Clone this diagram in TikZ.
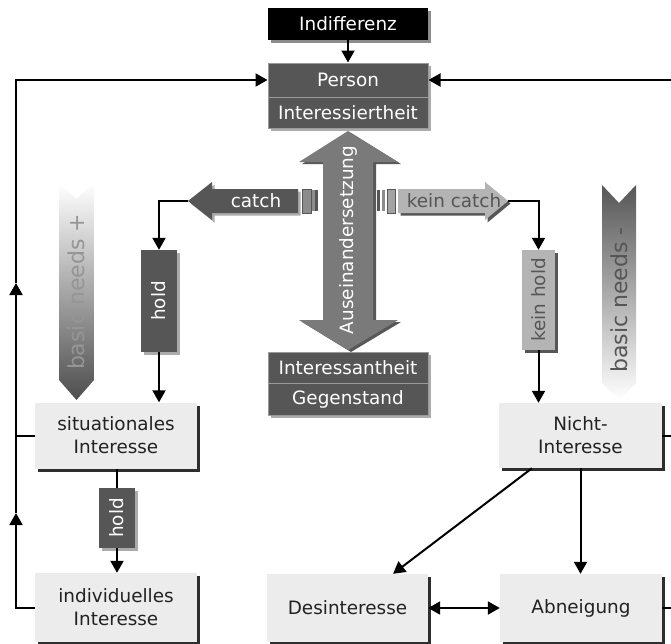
\documentclass[tikz,border=0pt]{standalone}
\usepackage{fontspec}
\usepackage{graphicx}
\setmainfont{DejaVu Sans}
\usetikzlibrary{arrows.meta,shadows,calc}
\definecolor{cDark}{HTML}{565656}
\definecolor{cMid}{HTML}{7A7A7A}
\definecolor{cLight}{HTML}{B4B4B4}
\definecolor{cTail}{HTML}{8C8C8C}
\definecolor{cBox}{HTML}{ECECEC}
\definecolor{cText}{HTML}{222222}
\definecolor{cShadowD}{HTML}{2E2E2E}
\definecolor{cShadowL}{HTML}{ABABAB}
\definecolor{cBorder}{HTML}{9A9A9A}
\definecolor{cNeedP}{HTML}{959595}
\definecolor{cNeedM}{HTML}{555555}
\begin{document}
\begin{tikzpicture}[x=1pt,y=-1pt,
  every node/.style={font=\fontsize{18.4}{23}\selectfont, inner sep=0pt},
  arr/.style={line width=2pt, -{Triangle[length=12pt,width=13pt]}},
  darr/.style={line width=2pt, {Triangle[length=12pt,width=13pt]}-{Triangle[length=12pt,width=13pt]}},
  ln/.style={line width=2pt},
  lshadow/.style={drop shadow={shadow xshift=3pt, shadow yshift=-3pt, fill=cShadowD, opacity=1}},
  gshadow/.style={drop shadow={shadow xshift=2.5pt, shadow yshift=-2.5pt, fill=cShadowL, opacity=1}},
  lightbox/.style={fill=cBox, text=cText, align=center, lshadow},
  darkbox/.style={fill=cDark, draw=cBorder, line width=1pt, text=white, minimum width=160pt, gshadow},
  holdbox/.style={fill=cDark, text=white, minimum width=36pt, gshadow},
  keinholdbox/.style={fill=cLight, text=cDark, minimum width=33pt, drop shadow={shadow xshift=2.5pt, shadow yshift=-2.5pt, fill=cDark, opacity=1}},
]
\useasboundingbox (0,0) rectangle (671,643);

% top boxes
\node[fill=black, text=white, minimum width=160pt, minimum height=32pt,
  drop shadow={shadow xshift=2.5pt, shadow yshift=-2.5pt, fill=cTail, opacity=1}] (indiff) at (348,24) {Indifferenz};
\node[darkbox, minimum height=34pt] (person) at (348,80) {Person};
\node[darkbox, minimum height=31pt] (interest) at (348,112.5) {Interessiertheit};

\node[darkbox, minimum height=31pt] (interessant) at (348,367.5) {Interessantheit};
\node[darkbox, minimum height=32pt] (gegenstand) at (348,399) {Gegenstand};

% Auseinandersetzung double arrow
\fill[cMid, drop shadow={shadow xshift=3pt, shadow yshift=-2pt, fill=cShadowD!80, opacity=1}]
  (348,131) -- (398,162) -- (373,162) -- (373,320) -- (398,320) -- (348,350)
  -- (299,320) -- (323,320) -- (323,162) -- (299,162) -- cycle;
\node[text=white] (ause) at (348,240) {\rotatebox{90}{Auseinandersetzung}};

% catch arrow
\fill[cDark, gshadow] (188,201) -- (212,182) -- (212,189) -- (298,189) -- (298,213)
  -- (212,213) -- (212,220) -- cycle;
\node[text=white] (catchT) at (256,201) {catch};
\coordinate (catchTip) at (188,201);
\fill[cTail, draw=cDark, line width=0.5pt] (302,189) rectangle (311,213);
\fill[cTail] (312,190) rectangle (314.5,211);
\fill[cDark] (315,190) rectangle (318,211);

% kein catch arrow
\fill[cLight, drop shadow={shadow xshift=2.5pt, shadow yshift=-2.5pt, fill=cDark, opacity=1}]
  (508,201) -- (485,182) -- (485,189) -- (398,189) -- (398,213)
  -- (485,213) -- (485,220) -- cycle;
\node[text=cDark] (keincatchT) at (454,201) {kein catch};
\coordinate (keincatchTip) at (508,201);
\fill[cDark] (377,190) rectangle (380,211);
\fill[cTail] (382,190) rectangle (385,211);
\fill[cTail!80, draw=cDark, line width=0.5pt] (387,189) rectangle (395,213);

% basic needs arrows
\shade[top color=white, bottom color=cDark!90!black]
  (59,183) -- (76.5,199) -- (94,183) -- (94,380) -- (76.5,400) -- (59,380) -- cycle;
\node[text=cNeedP, font=\fontsize{22}{26}\selectfont] (needsP) at (76.5,292) {\rotatebox{90}{basic needs +}};
\shade[top color=cDark, bottom color=white]
  (602,185) -- (619,203) -- (636,185) -- (636,383) -- (619,400) -- (602,383) -- cycle;
\node[text=cNeedM, font=\fontsize{22}{26}\selectfont] (needsM) at (619,300) {\rotatebox{90}{basic needs -}};

% hold boxes
\node[holdbox, minimum height=102pt] (hold1) at (159,301) {\rotatebox{90}{hold}};
\node[holdbox, minimum height=60pt] (hold2) at (117,518) {\rotatebox{90}{hold}};
\node[keinholdbox, minimum height=100pt] (keinhold) at (538.5,300) {\rotatebox{90}{kein hold}};

% light boxes
\node[lightbox, minimum width=162pt, minimum height=66pt] (sit) at (116,435.5) {situationales\\Interesse};
\node[lightbox, minimum width=162pt, minimum height=69pt] (indiv) at (116,607.5) {individuelles\\Interesse};
\node[lightbox, minimum width=163pt, minimum height=65pt] (nicht) at (580.5,435.5) {Nicht-\\Interesse};
\node[lightbox, minimum width=161pt, minimum height=68pt] (desint) at (347.5,608) {Desinteresse};
\node[lightbox, minimum width=162pt, minimum height=68pt] (abn) at (581,608) {Abneigung};

% connectors
\draw[arr] (indiff.south) -- (person.north);

\coordinate (lTop) at (16,80);
\coordinate (lMid) at (16,283);
\coordinate (lLow) at (16,513);
\coordinate (lBot) at (16,607.5);
\draw[arr] (indiv.west) -- (lBot) -- (lLow);
\draw[arr] (lLow) -- (lMid);
\draw[arr] (lMid) -- (lTop) -- (person.west);
\draw[ln] (sit.west) -- (sit.west -| lTop);

\coordinate (rTop) at (671,80);
\draw[arr] (rTop) -- (person.east);
\draw[ln] (nicht.east) -- (nicht.east -| rTop);
\draw[ln] (abn.east) -- (abn.east -| rTop);

\draw[arr] (catchTip) -| (hold1.north);
\draw[arr] (hold1.south) -- (hold1.south |- sit.north);
\draw[ln] (sit.south -| hold2.north) -- (hold2.north);
\draw[arr] (hold2.south) -- (hold2.south |- indiv.north);

\draw[arr] (keincatchTip) -| (keinhold.north);
\draw[arr] (keinhold.south) -- (keinhold.south |- nicht.north);
\draw[arr] ([xshift=-48.5pt]nicht.south) -- ([xshift=45.5pt]desint.north);
\draw[arr] (nicht.south) -- (nicht.south |- abn.north);
\draw[darr] (desint.east) -- (abn.west);
\end{tikzpicture}
\end{document}
